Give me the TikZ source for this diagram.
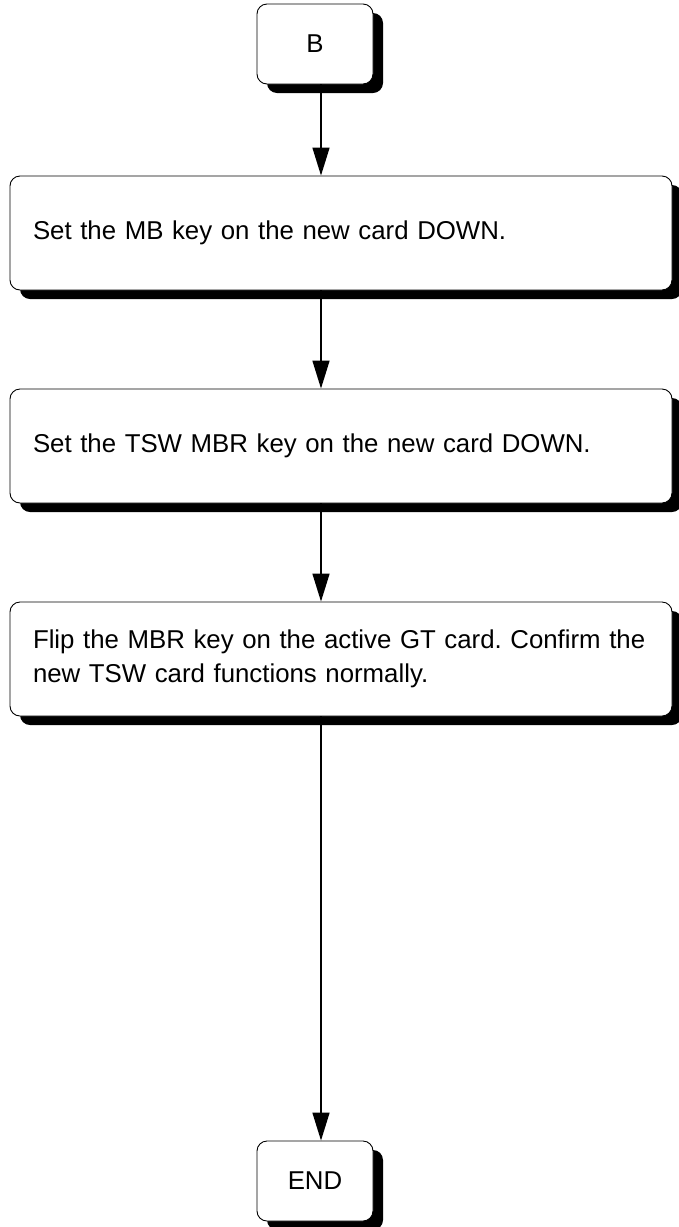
\documentclass[tikz,border=0pt]{standalone}
\usepackage{fontspec}
\setmainfont{Liberation Sans}
\usetikzlibrary{arrows.meta,positioning,shadows}
\frenchspacing

\begin{document}
\begin{tikzpicture}[x=1pt,y=-1pt,>={Triangle[length=28pt,width=17pt]},line width=1.5pt]
  \tikzstyle{shade}=[drop shadow={shadow xshift=10pt,shadow yshift=-9pt,fill=black,opacity=1}]
  \tikzstyle{stepbox}=[draw,line width=0.9pt,rounded corners=10pt,fill=white,shade,align=left,text width=616pt,inner xsep=23pt,minimum height=114pt,font=\fontsize{25.8}{34}\selectfont]
  \tikzstyle{endbox}=[draw,line width=0.9pt,rounded corners=10pt,fill=white,shade,minimum width=116pt,minimum height=80pt,font=\fontsize{25.8}{34}\selectfont]
  \useasboundingbox (0,0) rectangle (679,1227);
  \coordinate (spine) at (321,0);
  \node[endbox] (start) at (315,44) {B};
  \node[stepbox] (mb) at (341,233) {Set the MB key on the new card DOWN.};
  \node[stepbox] (tsw) at (341,446) {Set the TSW MBR key on the new card DOWN.};
  \node[stepbox] (flip) at (341,659) {Flip the MBR key on the active GT card. Confirm the\\new TSW card functions normally.};
  \node[endbox] (end) at (315,1181) {END};
  \draw[->] (start.south -| spine) -- (mb.north -| spine);
  \draw[->] (mb.south -| spine) -- (tsw.north -| spine);
  \draw[->] (tsw.south -| spine) -- (flip.north -| spine);
  \draw[->] (flip.south -| spine) -- (end.north -| spine);
\end{tikzpicture}
\end{document}
